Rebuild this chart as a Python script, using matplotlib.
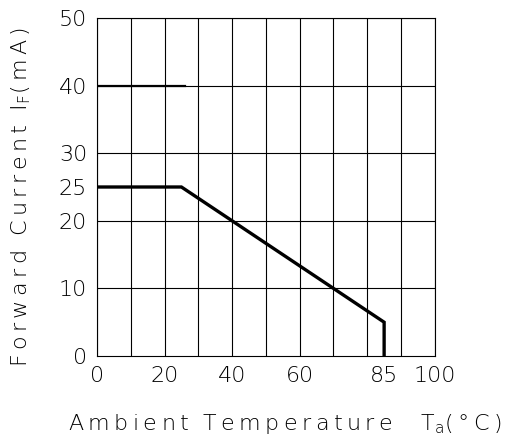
import matplotlib.pyplot as plt

# Derating curve: forward current vs ambient temperature
temp = [0, 25, 85, 85]
current = [25, 25, 5, 0]

# Short reference segment at 40 mA
peak_temp = [0, 26]
peak_current = [40, 40]

x_ticks = [0, 20, 40, 60, 85, 100]
y_ticks = [0, 10, 20, 25, 30, 40, 50]
grid_x = list(range(0, 101, 10))
grid_y = [10, 20, 30, 40, 50]


def spaced(text):
    # stroke fonts in the original are widely spaced; pad with thin spaces
    return "\u2009".join(text)


plt.rcParams["font.family"] = "DejaVu Sans"
plt.rcParams["mathtext.fontset"] = "custom"
plt.rcParams["mathtext.rm"] = "DejaVu Sans:light"

fig = plt.figure(figsize=(5.05, 4.36), dpi=100)
ax = fig.add_axes([0.192, 0.1835, 0.669, 0.7752])

# Grid
for gx in grid_x:
    ax.axvline(gx, color="black", lw=0.8, zorder=1)
for gy in grid_y:
    ax.axhline(gy, color="black", lw=0.8, zorder=1)

ax.plot(peak_temp, peak_current, color="black", lw=1.6, zorder=2)
ax.plot(temp, current, color="black", lw=2.4, zorder=3, solid_joinstyle="miter")

ax.set_xlim(0, 100)
ax.set_ylim(0, 50)
ax.set_xticks(x_ticks)
ax.set_yticks(y_ticks)
ax.set_xticklabels([str(t) for t in x_ticks])
ax.set_yticklabels([str(t) for t in y_ticks])
ax.tick_params(length=0, labelsize=16, pad=7)
for lbl in ax.get_xticklabels() + ax.get_yticklabels():
    lbl.set_fontweight("light")

for s in ax.spines.values():
    s.set_linewidth(0.8)

xlab = spaced("Ambient") + "  " + spaced("Temperature") + "    T$_{\\mathrm{a}}$" + spaced("(°C)")
ylab = spaced("Forward") + "  " + spaced("Current") + "  I$_{\\mathrm{F}}$" + spaced("(mA)")
ax.set_xlabel(xlab, fontsize=16, fontweight="light")
ax.set_ylabel(ylab, fontsize=16, fontweight="light")
ax.xaxis.set_label_coords(0.556, -0.166)
ax.yaxis.set_label_coords(-0.19, 0.47)

fig.savefig("out.png", dpi=100)
